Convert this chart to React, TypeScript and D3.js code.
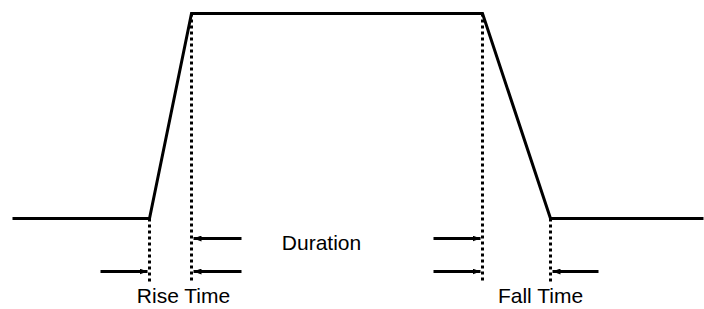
import React, { useRef, useEffect } from "react";
import * as d3 from "d3";

// pulse shape: time positions (px-based units) and levels (0 = low, 1 = high)
const pulseTimes = [12, 149, 191, 482, 550, 703];
const pulseLevels = [0, 0, 1, 1, 0, 0];

// dotted guide lines: time, level they start from
const guideTimes = [149, 191, 482, 550];
const guideTopLevels = [0, 1, 1, 0];

// arrows: [fromTime, toTime], row 0 = duration row, row 1 = lower row
const arrowFrom = [241, 433, 100, 241, 433, 598];
const arrowTo = [193, 480, 147, 193, 480, 552];
const arrowRow = [0, 0, 1, 1, 1, 1];

const labels = ["Duration", "Rise Time", "Fall Time"];
const labelTimes = [321, 183, 540];
const labelRows = [0, 1, 1];

const App = () => {
  const svgRef = useRef<SVGSVGElement>(null);

  useEffect(() => {
    if (!svgRef.current) return;
    const svg = d3.select(svgRef.current);
    svg.selectAll("*").remove();

    const width = 704;

    const x = d3.scaleLinear().domain([0, width]).range([0.5, width + 0.5]);
    const y = d3.scaleLinear().domain([0, 1]).range([218.5, 13.5]);
    const rowY = [238.5, 271.5];
    const textY = [250, 303];
    const guideBottom = 283;

    const defs = svg.append("defs");
    defs
      .append("marker")
      .attr("id", "head")
      .attr("viewBox", "0 0 8 6")
      .attr("refX", 8)
      .attr("refY", 3)
      .attr("markerWidth", 8)
      .attr("markerHeight", 6)
      .attr("markerUnits", "userSpaceOnUse")
      .attr("orient", "auto")
      .append("path")
      .attr("d", "M0,0 L8,3 L0,6 Z")
      .attr("fill", "#000");

    // dotted guides
    svg
      .append("g")
      .selectAll("line")
      .data(guideTimes)
      .join("line")
      .attr("x1", (d) => x(d))
      .attr("x2", (d) => x(d))
      .attr("y1", (d, i) => y(guideTopLevels[i]))
      .attr("y2", guideBottom)
      .attr("stroke", "#000")
      .attr("stroke-width", 3)
      .attr("stroke-dasharray", "3,3");

    // pulse
    const line = d3
      .line<number>()
      .x((d, i) => x(pulseTimes[i]))
      .y((d) => y(d));
    svg
      .append("path")
      .datum(pulseLevels)
      .attr("d", line)
      .attr("fill", "none")
      .attr("stroke", "#000")
      .attr("stroke-width", 3)
      .attr("stroke-linejoin", "miter");

    // arrows
    svg
      .append("g")
      .selectAll("line")
      .data(arrowFrom)
      .join("line")
      .attr("x1", (d) => x(d))
      .attr("x2", (d, i) => x(arrowTo[i]))
      .attr("y1", (d, i) => rowY[arrowRow[i]])
      .attr("y2", (d, i) => rowY[arrowRow[i]])
      .attr("stroke", "#000")
      .attr("stroke-width", 3)
      .attr("marker-end", "url(#head)");

    // labels
    svg
      .append("g")
      .selectAll("text")
      .data(labels)
      .join("text")
      .attr("x", (d, i) => x(labelTimes[i]))
      .attr("y", (d, i) => textY[labelRows[i]])
      .attr("text-anchor", "middle")
      .attr("font-family", "Liberation Sans, Arial, sans-serif")
      .attr("font-size", 21)
      .attr("fill", "#000")
      .text((d) => d);
  }, []);

  return (
    <svg
      ref={svgRef}
      width={704}
      height={309}
      style={{ position: "absolute", left: 0, top: 0, background: "#fff" }}
    ></svg>
  );
};

export default App;
